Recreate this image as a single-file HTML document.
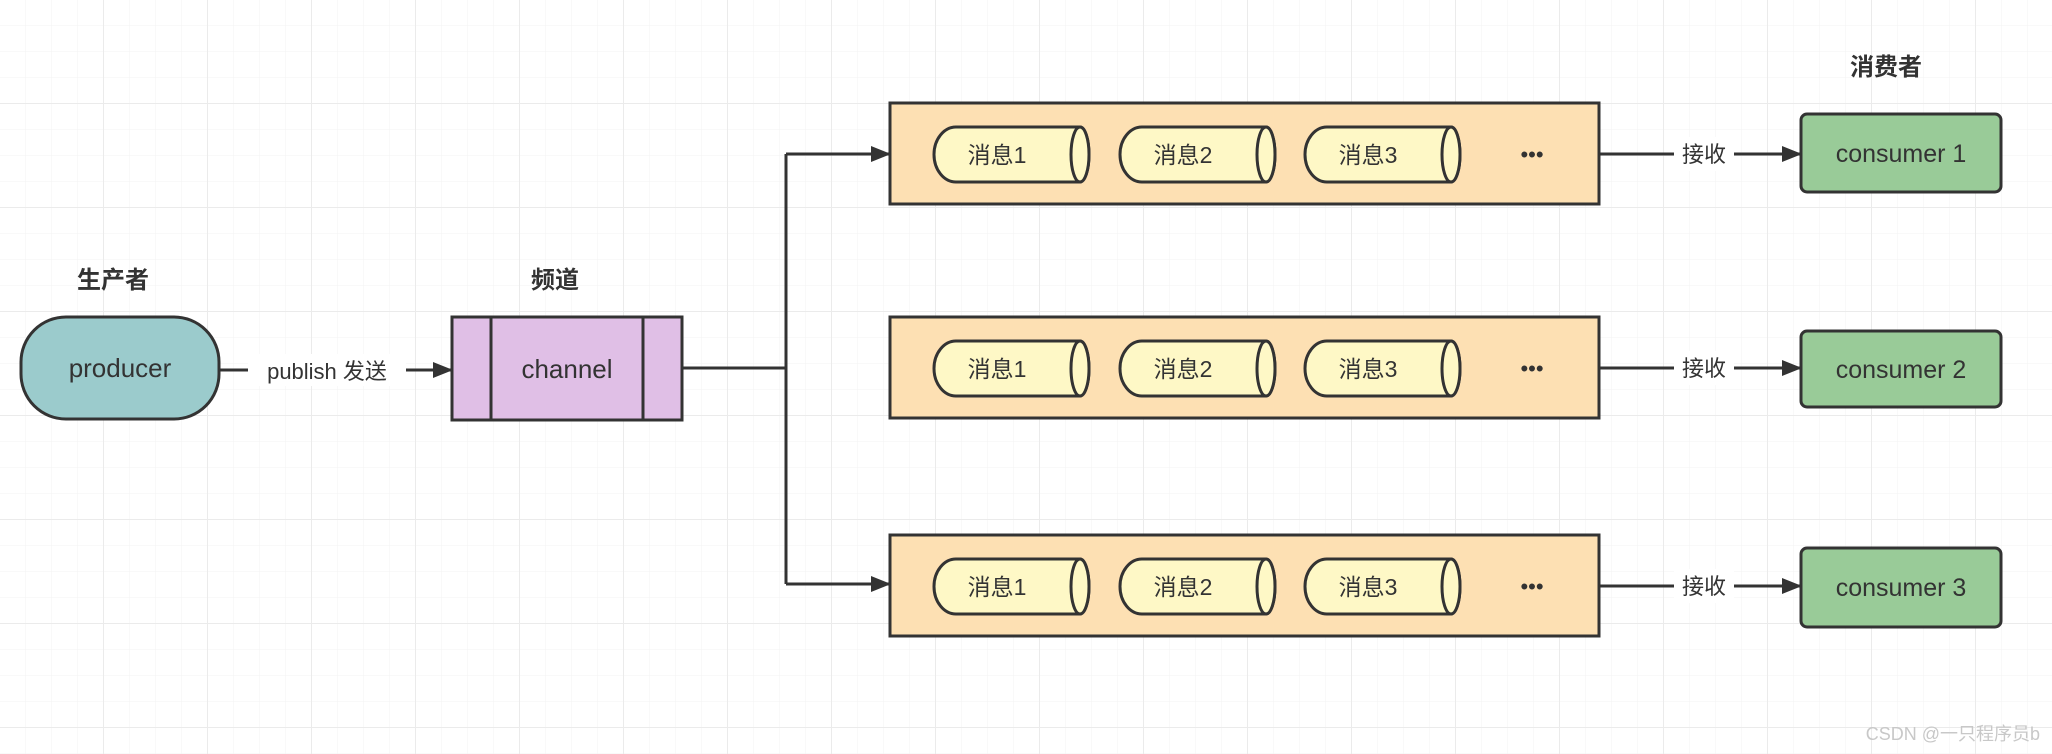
<!DOCTYPE html>
<html><head><meta charset="utf-8"><style>
html,body{margin:0;padding:0;background:#fff}
svg{display:block}
text{font-family:"Liberation Sans","Noto Sans CJK SC",sans-serif;fill:#333}
</style></head><body>
<svg width="2052" height="754" viewBox="0 0 2052 754" xmlns="http://www.w3.org/2000/svg">
<defs>
<pattern id="g" width="26" height="26" patternUnits="userSpaceOnUse">
<path d="M26 0V26M0 26H26" stroke="#f3f3f3" stroke-width="1" fill="none"/>
</pattern>
<pattern id="G" width="104" height="104" patternUnits="userSpaceOnUse">
<rect width="104" height="104" fill="url(#g)"/>
<path d="M104 0V104M0 104H104" stroke="#ebebeb" stroke-width="2" fill="none"/>
</pattern>
<marker id="a" markerWidth="20" markerHeight="16" refX="18" refY="8" orient="auto" markerUnits="userSpaceOnUse" viewBox="0 0 20 16">
<path d="M0 0L20 8L0 16z" fill="#333"/>
</marker>
<g id="cyl">
<path d="M22 0H146A9 27.5 0 0 1 146 55H22A22 27.5 0 0 1 22 0z" fill="#fef8c6" stroke="#333" stroke-width="3"/>
<ellipse cx="146" cy="27.5" rx="9" ry="27.5" fill="#fef8c6" stroke="#333" stroke-width="3"/>
</g>
</defs>
<rect width="2052" height="754" fill="url(#G)"/>

<g font-size="24" font-weight="bold" text-anchor="middle">
<text x="113" y="288">生产者</text>
<text x="555" y="288">频道</text>
<text x="1886" y="75">消费者</text>
</g>

<rect x="21" y="317" width="198" height="102" rx="45" ry="45" fill="#9bcbcc" stroke="#333" stroke-width="3"/>
<text x="120" y="377" font-size="26" text-anchor="middle">producer</text>

<line x1="219" y1="370" x2="451" y2="370" stroke="#333" stroke-width="3" marker-end="url(#a)" fill="none"/>
<rect x="248" y="354" width="158" height="32" fill="#fff"/>
<text x="327" y="379" font-size="22" text-anchor="middle">publish 发送</text>

<rect x="452" y="317" width="230" height="103" fill="#e0bfe6" stroke="#333" stroke-width="3"/>
<line x1="491" y1="317" x2="491" y2="420" stroke="#333" stroke-width="3"/>
<line x1="643" y1="317" x2="643" y2="420" stroke="#333" stroke-width="3"/>
<text x="567" y="378" font-size="26" text-anchor="middle">channel</text>

<path d="M682 368H786" stroke="#333" stroke-width="3" fill="none"/>
<path d="M786 154V584" stroke="#333" stroke-width="3" fill="none"/>
<path d="M786 154H889" stroke="#333" stroke-width="3" marker-end="url(#a)" fill="none"/>
<path d="M786 584H889" stroke="#333" stroke-width="3" marker-end="url(#a)" fill="none"/>

<g id="q1">
<rect x="890" y="103" width="709" height="101" fill="#fde0b3" stroke="#333" stroke-width="3"/>
<use href="#cyl" x="934" y="127"/>
<use href="#cyl" x="1120" y="127"/>
<use href="#cyl" x="1305" y="127"/>
<g font-size="23" text-anchor="middle">
<text x="997" y="163">消息1</text>
<text x="1183" y="163">消息2</text>
<text x="1368" y="163">消息3</text>
</g>
<text x="1532" y="162" font-size="22" text-anchor="middle">•••</text>
<path d="M1599 154H1800" stroke="#333" stroke-width="3" marker-end="url(#a)" fill="none"/>
<rect x="1674" y="137" width="60" height="34" fill="#fff"/>
<text x="1704" y="162" font-size="22" text-anchor="middle">接收</text>
</g>
<use href="#q1" x="0" y="214"/>
<use href="#q1" x="0" y="432"/>

<g stroke="#333" stroke-width="3" fill="#99cb98">
<rect x="1801" y="114" width="200" height="78" rx="6"/>
<rect x="1801" y="331" width="200" height="76" rx="6"/>
<rect x="1801" y="548" width="200" height="79" rx="6"/>
</g>
<g font-size="25" text-anchor="middle">
<text x="1901" y="162">consumer 1</text>
<text x="1901" y="378">consumer 2</text>
<text x="1901" y="596">consumer 3</text>
</g>
<text x="2040" y="740" font-size="18" text-anchor="end" style="fill:#c8c8c8">CSDN @一只程序员b</text>
</svg>
</body></html>
